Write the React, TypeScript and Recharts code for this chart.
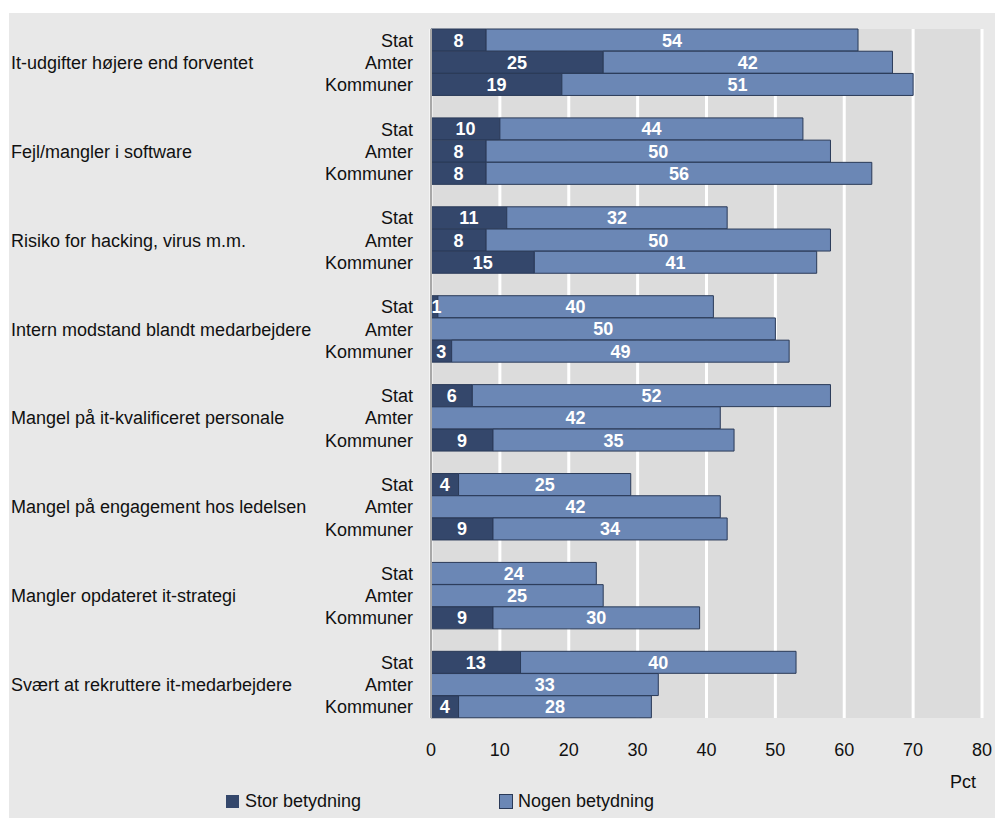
import React from 'react';
import { BarChart, Bar, XAxis, YAxis, CartesianGrid, LabelList, Label } from 'recharts';

const groups = [
  'It-udgifter højere end forventet',
  'Fejl/mangler i software',
  'Risiko for hacking, virus m.m.',
  'Intern modstand blandt medarbejdere',
  'Mangel på it-kvalificeret personale',
  'Mangel på engagement hos ledelsen',
  'Mangler opdateret it-strategi',
  'Svært at rekruttere it-medarbejdere',
];
const sectors = ['Stat', 'Amter', 'Kommuner'];
// values per group: [Stat, Amter, Kommuner]
const storBetydning = [
  [8, 25, 19],
  [10, 8, 8],
  [11, 8, 15],
  [1, 0, 3],
  [6, 0, 9],
  [4, 0, 9],
  [0, 0, 9],
  [13, 0, 4],
];
const nogenBetydning = [
  [54, 42, 51],
  [44, 50, 56],
  [32, 50, 41],
  [40, 50, 49],
  [52, 42, 35],
  [25, 42, 34],
  [24, 25, 30],
  [40, 33, 28],
];
const xTicks = [0, 10, 20, 30, 40, 50, 60, 70, 80];
const seriesNames = ['Stor betydning', 'Nogen betydning'];

type Row = { key: string; sector: string; group: string; stor: number | null; nogen: number | null };
const rows: Row[] = [];
groups.forEach((g, gi) => {
  sectors.forEach((s, si) => {
    rows.push({
      key: `${gi}-${si}`,
      sector: s,
      group: si === 1 ? g : '',
      stor: storBetydning[gi][si],
      nogen: nogenBetydning[gi][si],
    });
  });
  if (gi < groups.length - 1) {
    rows.push({ key: `${gi}-gap`, sector: '', group: '', stor: null, nogen: null });
  }
});

const DARK = '#34476b';
const LIGHT = '#6b87b5';
const FONT = '"Liberation Sans", Arial, sans-serif';
const FS = 18;

const YTick = (props: any) => {
  const { y, payload } = props;
  const row = rows[payload.index];
  if (!row) return null;
  return (
    <g>
      {row.sector && (
        <text x={413} y={y} dy={6.5} textAnchor="end" fill="#111" fontSize={FS} fontFamily={FONT}>
          {row.sector}
        </text>
      )}
      {row.group && (
        <text x={11} y={y} dy={6.5} textAnchor="start" fill="#111" fontSize={FS} fontFamily={FONT}>
          {row.group}
        </text>
      )}
    </g>
  );
};

const ValueLabel = (props: any) => {
  const { x, y, width, height, value } = props;
  if (!value) return null;
  return (
    <text
      x={x + width / 2 + (width < 10 ? 2 : 0)}
      y={y + height / 2}
      dy={6.5}
      textAnchor="middle"
      fill="#fff"
      fontWeight="bold"
      fontSize={18}
      fontFamily={FONT}
    >
      {value}
    </text>
  );
};

export default function App() {
  return (
    <div style={{ position: 'relative', width: 995, height: 818, background: '#fff', fontFamily: FONT }}>
      <style>{`body{margin:0}`}</style>
      <div style={{ position: 'absolute', left: 9, top: 13, width: 986, height: 805, background: '#e8e8e8' }} />
      <div style={{ position: 'absolute', left: 0, top: 0 }}>
        <BarChart
          width={995}
          height={818}
          data={rows}
          layout="vertical"
          barCategoryGap={0}
          margin={{ top: 29, right: 13, bottom: 30, left: 9 }}
        >
          <CartesianGrid horizontal={false} vertical={true} stroke="#ffffff" strokeWidth={3} fill="#dcdcdc" />
          <XAxis
            type="number"
            domain={[0, 80]}
            ticks={xTicks}
            tickLine={false}
            axisLine={false}
            tickSize={0}
            tickMargin={25}
            height={70}
            tick={{ fill: '#111', fontSize: FS, fontFamily: FONT }}
          >
            <Label value="Pct" position="insideBottomRight" offset={0} dx={-6} dy={0} fill="#111" fontSize={FS} fontFamily={FONT} />
          </XAxis>
          <YAxis
            type="category"
            dataKey="key"
            width={422}
            interval={0}
            tickLine={false}
            axisLine={{ stroke: '#a8a8a8', strokeWidth: 2 }}
            tick={<YTick />}
          />
          <Bar dataKey="stor" name={seriesNames[0]} stackId="a" fill={DARK} stroke="#2a3a58" strokeWidth={1} isAnimationActive={false}>
            <LabelList dataKey="stor" content={<ValueLabel />} />
          </Bar>
          <Bar dataKey="nogen" name={seriesNames[1]} stackId="a" fill={LIGHT} stroke="#2a3a58" strokeWidth={1} isAnimationActive={false}>
            <LabelList dataKey="nogen" content={<ValueLabel />} />
          </Bar>
        </BarChart>
      </div>
      <div style={{ position: 'absolute', left: 226, top: 791, display: 'flex', alignItems: 'center', fontSize: FS, color: '#111' }}>
        <span style={{ display: 'inline-block', width: 13, height: 13, background: DARK, marginRight: 6 }} />
        {seriesNames[0]}
      </div>
      <div style={{ position: 'absolute', left: 499, top: 791, display: 'flex', alignItems: 'center', fontSize: FS, color: '#111' }}>
        <span style={{ display: 'inline-block', width: 12, height: 13, background: LIGHT, border: '1px solid #2a3a58', marginRight: 5 }} />
        {seriesNames[1]}
      </div>
    </div>
  );
}
